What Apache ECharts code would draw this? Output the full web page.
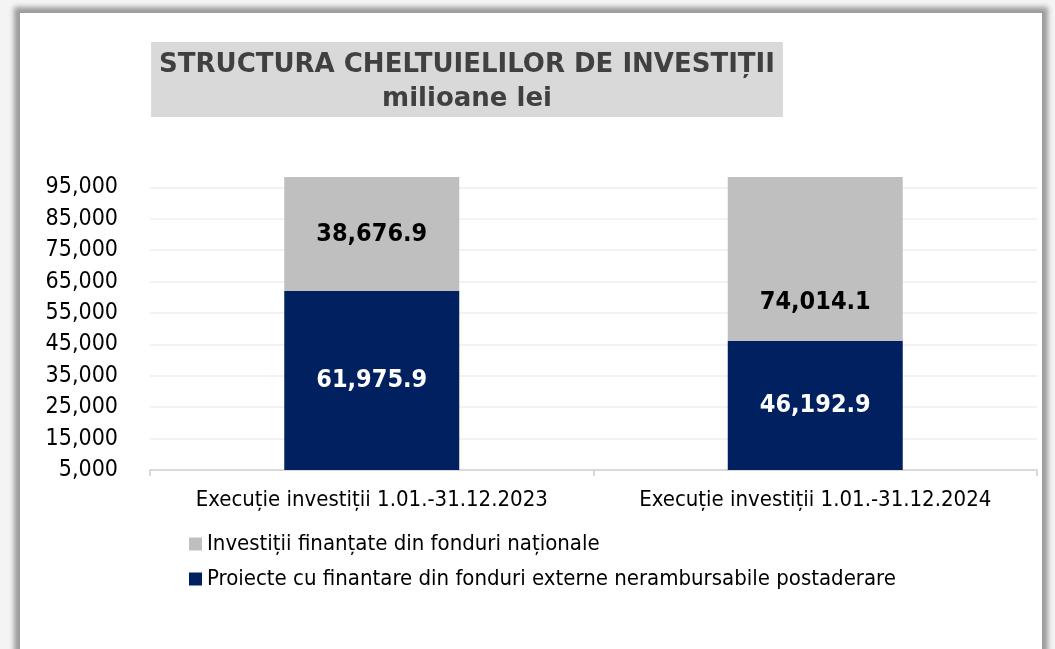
<!DOCTYPE html>
<html lang="ro">
<head>
    <meta charset="UTF-8">
    <title>Structura cheltuielilor de investitii</title>
    <script src="https://cdn.jsdelivr.net/npm/echarts@6/dist/echarts.min.js"></script>
    <style>
        *{
            margin: 0;
            padding: 0;
        }
        body{
            width: 1055px;
            height: 649px;
            background: #f4f4f4;
            overflow: hidden;
            position: relative;
        }
        .panel{
            position: absolute;
            left: 20px;
            top: 13px;
            width: 1022px;
            height: 680px;
            background: #fff;
            box-shadow: 0 0 5px 6px #9c9c9c;
        }
        #box{
            position: absolute;
            left: 0;
            top: 0;
            width: 1055px;
            height: 649px;
        }
    </style>
</head>
<body>
<div class="panel"></div>
<div id="box"></div>
<script type="text/javascript">
    // date (milioane lei)
    let categories = ['Execuție investiții 1.01.-31.12.2023', 'Execuție investiții 1.01.-31.12.2024'];
    let numeNationale = 'Investiții finanțate din fonduri naționale';
    let numeExterne = 'Proiecte cu finantare din fonduri externe nerambursabile postaderare';
    let externe = [61975.9, 46192.9];
    let nationale = [38676.9, 74014.1];
    // axa Y
    let yMin = 5000;
    let yMax = 98300;
    let yStep = 10000;

    let font = '"DejaVu Sans Condensed", "DejaVu Sans", sans-serif';
    let fmt = v => v.toLocaleString('en-US', {minimumFractionDigits: 1, maximumFractionDigits: 1});

    let chart = echarts.init(document.getElementById('box'));

    // eticheta pentru 2024 (gri) e mai jos in original
    let labelShift = [0, 44];
    let dataNationale = nationale.map((v, i) => i === 1 ? {value: v, label: {offset: labelShift}} : v);

    let option = {
        backgroundColor: 'transparent',
        textStyle: {fontFamily: font},
        title: {
            text: 'STRUCTURA CHELTUIELILOR DE INVESTIȚII\nmilioane lei',
            left: 459,
            top: 42,
            textAlign: 'center',
            padding: [6, 8, 1, 8],
            backgroundColor: '#d9d9d9',
            textStyle: {
                fontFamily: '"DejaVu Sans", sans-serif',
                fontSize: 26,
                lineHeight: 34,
                fontWeight: 'bold',
                color: '#404040'
            }
        },
        legend: {
            orient: 'vertical',
            left: 189,
            top: 532,
            padding: 0,
            itemWidth: 13,
            itemHeight: 13,
            itemGap: 11,
            icon: 'rect',
            data: [numeNationale, numeExterne],
            textStyle: {
                fontFamily: font,
                fontSize: 22,
                lineHeight: 24,
                color: '#000'
            }
        },
        grid: {
            left: 150,
            right: 18,
            top: 177,
            bottom: 179,
            containLabel: false
        },
        xAxis: {
            type: 'category',
            data: categories,
            axisLine: {lineStyle: {color: '#d9d9d9', width: 2}},
            axisTick: {show: true, length: 6, lineStyle: {color: '#d9d9d9', width: 2}},
            axisLabel: {
                interval: 0,
                hideOverlap: false,
                fontFamily: font,
                fontSize: 22,
                color: '#000',
                margin: 19
            }
        },
        yAxis: {
            type: 'value',
            min: yMin,
            max: yMax,
            interval: yStep,
            axisLine: {show: false},
            axisTick: {show: false},
            splitLine: {
                show: true,
                showMaxLine: false,
                lineStyle: {color: '#eeeeee', width: 1.5}
            },
            axisLabel: {
                showMaxLabel: false,
                fontFamily: font,
                fontSize: 23,
                color: '#000',
                margin: 32,
                formatter: v => v.toLocaleString('en-US')
            }
        },
        series: [
            {
                name: numeExterne,
                type: 'bar',
                stack: 'total',
                barWidth: 175,
                data: externe,
                itemStyle: {color: '#002060'},
                label: {
                    show: true,
                    position: 'inside',
                    fontFamily: font,
                    fontSize: 25,
                    fontWeight: 'bold',
                    color: '#fff',
                    formatter: p => fmt(p.value)
                }
            },
            {
                name: numeNationale,
                type: 'bar',
                stack: 'total',
                barWidth: 175,
                data: dataNationale,
                itemStyle: {color: '#bfbfbf'},
                label: {
                    show: true,
                    position: 'inside',
                    fontFamily: font,
                    fontSize: 25,
                    fontWeight: 'bold',
                    color: '#000',
                    formatter: p => fmt(p.value)
                }
            }
        ]
    };
    chart.setOption(option);
</script>
</body>
</html>
